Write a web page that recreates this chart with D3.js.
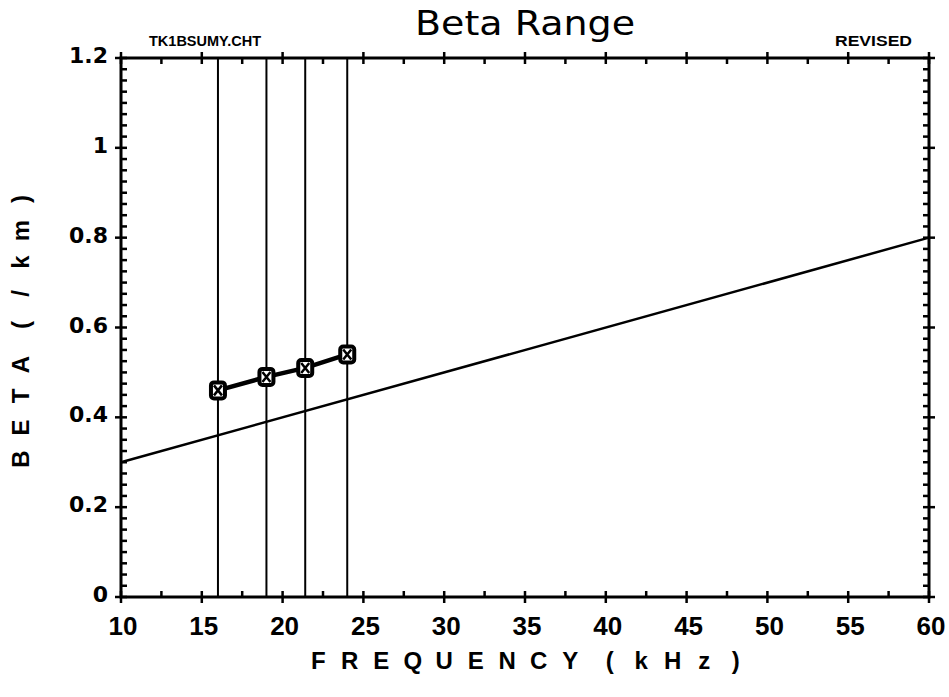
<!DOCTYPE html>
<html>
<head>
<meta charset="utf-8">
<script src="https://cdn.jsdelivr.net/npm/d3@7"></script>
<style>
  html, body { margin: 0; padding: 0; background: #fff; }
  svg { display: block; font-family: "DejaVu Sans", "Liberation Sans", sans-serif; }
  text { fill: #000; }
</style>
</head>
<body>
<svg id="chart" width="949" height="697"></svg>
<script>
// Measured beta at the four transmitter frequencies (kHz)
const stationFreqs = [16, 19, 21.4, 24];
const measuredBeta = [0.46, 0.49, 0.51, 0.54];
// Reference beta line across the band
const refFreqs = [10, 60];
const refBeta = [0.30, 0.80];
// Axis ticks
const xMajorTicks = [10, 15, 20, 25, 30, 35, 40, 45, 50, 55, 60];
const xMinorTicks = [12.5, 17.5, 22.5, 27.5, 32.5, 37.5, 42.5, 47.5, 52.5, 57.5];
const yMajorTicks = [0, 0.2, 0.4, 0.6, 0.8, 1, 1.2];
const yMinorTicks = d3.range(0, 48).map(i => i * 0.025).filter(v => Math.abs(v / 0.2 - Math.round(v / 0.2)) > 1e-6);

const svg = d3.select("#chart");
const plotL = 121, plotR = 929, plotT = 58, plotB = 597;
const LIB = "'Liberation Sans', Arial, sans-serif";
const NARROW = "'Liberation Sans Narrow', 'Liberation Sans', sans-serif";

const x = d3.scaleLinear().domain([10, 60]).range([plotL, plotR]);
const y = d3.scaleLinear().domain([0, 1.2]).range([plotB, plotT]);

// Vertical lines at each station frequency
svg.selectAll("line.station").data(stationFreqs).join("line")
  .attr("x1", d => x(d)).attr("x2", d => x(d))
  .attr("y1", y(0)).attr("y2", y(1.2))
  .attr("stroke", "#000").attr("stroke-width", 2);

// Reference line
const refPts = refFreqs.map((f, i) => [f, refBeta[i]]);
svg.append("path").datum(refPts)
  .attr("d", d3.line().x(d => x(d[0])).y(d => y(d[1])))
  .attr("fill", "none").attr("stroke", "#000").attr("stroke-width", 2.5);

// Frame
svg.append("rect").attr("x", plotL).attr("y", plotT)
  .attr("width", plotR - plotL).attr("height", plotB - plotT)
  .attr("fill", "none").attr("stroke", "#000").attr("stroke-width", 3);

// Ticks: majors cross the frame, minors point inward
function hTicks(yPos, dir) {
  svg.selectAll(null).data(xMajorTicks).join("line")
    .attr("x1", d => x(d)).attr("x2", d => x(d))
    .attr("y1", yPos - 6).attr("y2", yPos + 6)
    .attr("stroke", "#000").attr("stroke-width", 2.5);
  svg.selectAll(null).data(xMinorTicks).join("line")
    .attr("x1", d => x(d)).attr("x2", d => x(d))
    .attr("y1", yPos).attr("y2", yPos + dir * 6)
    .attr("stroke", "#000").attr("stroke-width", 2.5);
}
function vTicks(xPos, dir) {
  svg.selectAll(null).data(yMajorTicks).join("line")
    .attr("x1", xPos - 6).attr("x2", xPos + 6)
    .attr("y1", d => y(d)).attr("y2", d => y(d))
    .attr("stroke", "#000").attr("stroke-width", 2.5);
  svg.selectAll(null).data(yMinorTicks).join("line")
    .attr("x1", xPos).attr("x2", xPos + dir * 6)
    .attr("y1", d => y(d)).attr("y2", d => y(d))
    .attr("stroke", "#000").attr("stroke-width", 2.5);
}
hTicks(plotB, -1);
hTicks(plotT, 1);
vTicks(plotL, 1);
vTicks(plotR, -1);

// Tick labels
svg.selectAll("text.xt").data(xMajorTicks).join("text")
  .attr("x", d => x(d) + 2).attr("y", 635)
  .attr("text-anchor", "middle").attr("font-size", 26).attr("font-weight", "bold")
  .style("font-family", LIB)
  .text(d => d);
svg.selectAll("text.yt").data(yMajorTicks).join("text")
  .attr("x", 108).attr("y", d => y(d) + 5)
  .attr("text-anchor", "end").attr("font-size", 22).attr("font-weight", "bold")
  .text(d => d);

// Measured series: thick connecting line with box-and-cross markers
const measPts = stationFreqs.map((f, i) => [f, measuredBeta[i]]);
svg.append("path").datum(measPts)
  .attr("d", d3.line().x(d => x(d[0])).y(d => y(d[1])))
  .attr("fill", "none").attr("stroke", "#000").attr("stroke-width", 4.5);
const mk = svg.selectAll("g.mk").data(measPts).join("g")
  .attr("transform", d => `translate(${x(d[0])},${y(d[1])})`);
mk.append("rect").attr("x", -7).attr("y", -8).attr("width", 14).attr("height", 16)
  .attr("rx", 3).attr("fill", "#fff").attr("stroke", "#000").attr("stroke-width", 4);
mk.append("path").attr("d", "M-4,-5L4,5M4,-5L-4,5")
  .attr("stroke", "#000").attr("stroke-width", 2.5);

// Titles
svg.append("text").attr("x", 415).attr("y", 35)
  .attr("font-size", 34).attr("textLength", 220).attr("lengthAdjust", "spacingAndGlyphs")
  .text("Beta Range");
svg.append("text").attr("x", 149).attr("y", 46)
  .attr("font-size", 14).attr("font-weight", "bold").style("font-family", NARROW)
  .attr("textLength", 112).attr("lengthAdjust", "spacingAndGlyphs").text("TK1BSUMY.CHT");
svg.append("text").attr("x", 835).attr("y", 46)
  .attr("font-size", 14).attr("font-weight", "bold").style("font-family", NARROW)
  .attr("textLength", 77).attr("lengthAdjust", "spacingAndGlyphs").text("REVISED");

// Axis titles, set one character at a time on an even pitch
function spacedLabel(g, str, step, spaceGap) {
  let pos = 0;
  const chars = [];
  for (const ch of str) {
    if (ch === " ") { pos += spaceGap; continue; }
    chars.push({ ch, pos });
    pos += step;
  }
  const span = chars[chars.length - 1].pos;
  g.selectAll("text").data(chars).join("text")
    .attr("x", d => d.pos - span / 2).attr("y", 0)
    .attr("text-anchor", "middle")
    .attr("font-size", 24).attr("font-weight", "bold")
    .style("font-family", LIB)
    .text(d => d.ch);
}
spacedLabel(svg.append("g").attr("transform", "translate(527,669)"), "FREQUENCY (kHz)", 31.5, 8);
spacedLabel(svg.append("g").attr("transform", "translate(29,329) rotate(-90)"), "BETA (/km)", 31.5, 8);
</script>
</body>
</html>
